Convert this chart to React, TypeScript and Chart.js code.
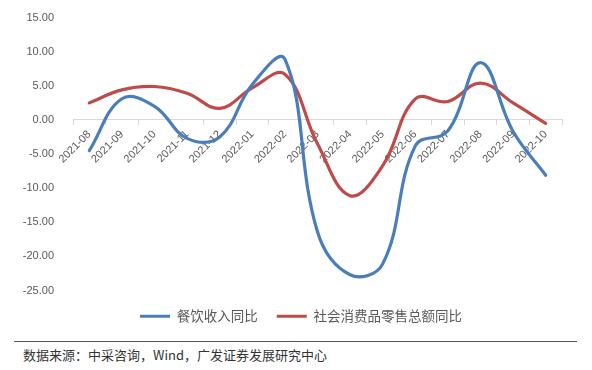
import React, { useEffect, useRef } from "react";
import { Chart, registerables } from "chart.js";

Chart.register(...registerables);

const categories = [
  "2021-08", "2021-09", "2021-10", "2021-11", "2021-12",
  "2022-01", "2022-02", "2022-03", "2022-04", "2022-05",
  "2022-06", "2022-07", "2022-08", "2022-09", "2022-10",
];
const cateringYoY = [-4.5, 3.1, 2.0, -2.7, -2.5, 5.2, 8.9, -16.4, -22.7, -21.1, -3.8, -1.6, 8.4, -1.7, -8.1];
const retailYoY = [2.5, 4.4, 4.9, 3.9, 1.7, 4.7, 6.7, -3.5, -11.1, -6.7, 3.1, 2.7, 5.4, 2.5, -0.5];
const seriesNames = ["餐饮收入同比", "社会消费品零售总额同比"];
const yTicks = { min: -25, max: 15, step: 5 };
const sourceText = "数据来源：中采咨询，Wind，广发证券发展研究中心";

const legendShift = {
  id: "legendShift",
  afterLayout(chart: any) {
    if (chart.legend) {
      chart.legend.left = 40;
    }
  },
};

export default function App() {
  const ref = useRef<HTMLCanvasElement | null>(null);
  useEffect(() => {
    if (!ref.current) return;
    const chart = new Chart(ref.current, {
      type: "line",
      data: {
        labels: categories,
        datasets: [
          {
            label: seriesNames[0],
            data: cateringYoY,
            borderColor: "#4A7EBB",
            backgroundColor: "#4A7EBB",
            borderWidth: 3.2,
            pointRadius: 0,
            tension: 0.4,
            borderCapStyle: "round",
            pointStyle: "line",
          },
          {
            label: seriesNames[1],
            data: retailYoY,
            borderColor: "#BE4B48",
            backgroundColor: "#BE4B48",
            borderWidth: 3.2,
            pointRadius: 0,
            tension: 0.4,
            borderCapStyle: "round",
            pointStyle: "line",
          },
        ],
      },
      plugins: [legendShift],
      options: {
        responsive: false,
        animation: false,
        devicePixelRatio: 1,
        layout: { padding: { left: 0, right: 30, top: 17, bottom: 0 } },
        plugins: {
          tooltip: { enabled: false },
          legend: {
            position: "bottom",
            labels: {
              usePointStyle: true,
              pointStyleWidth: 30,
              padding: 19,
              color: "#595959",
              font: { family: "'Noto Sans CJK SC', sans-serif", size: 13.5 },
            },
          },
        },
        scales: {
          x: {
            type: "category",
            position: { y: 0 } as any,
            offset: true,
            grid: {
              display: true,
              drawOnChartArea: false,
              drawTicks: true,
              tickLength: 5,
              color: "#D9D9D9",
              offset: true,
            },
            border: { display: true, color: "#D9D9D9", width: 1 },
            ticks: {
              minRotation: 45,
              maxRotation: 45,
              autoSkip: false,
              padding: 3,
              color: "#595959",
              font: { family: "'Liberation Sans', Arial, sans-serif", size: 11 },
            },
          },
          y: {
            min: yTicks.min,
            max: yTicks.max,
            afterFit: (s: any) => {
              s.width = 73;
            },
            grid: { display: false },
            border: { display: false },
            ticks: {
              stepSize: yTicks.step,
              padding: 11,
              color: "#595959",
              font: { family: "'Liberation Sans', Arial, sans-serif", size: 11 },
              callback: (v: any) => Number(v).toFixed(2),
            },
          },
        },
      },
    });
    return () => chart.destroy();
  }, []);

  return (
    <div style={{ position: "absolute", left: 0, top: 0, width: 592, height: 370, background: "#fff" }}>
      <canvas ref={ref} width={592} height={333} style={{ position: "absolute", left: 0, top: 0 }} />
      <div style={{ position: "absolute", left: 14, top: 341, width: 563, height: 0, borderTop: "1.5px solid #555" }} />
      <div
        style={{
          position: "absolute",
          left: 23,
          top: 346,
          fontFamily: "'Noto Sans CJK SC', sans-serif",
          fontSize: 13,
          lineHeight: "18px",
          color: "#333",
          whiteSpace: "nowrap",
        }}
      >
        {sourceText}
      </div>
    </div>
  );
}
